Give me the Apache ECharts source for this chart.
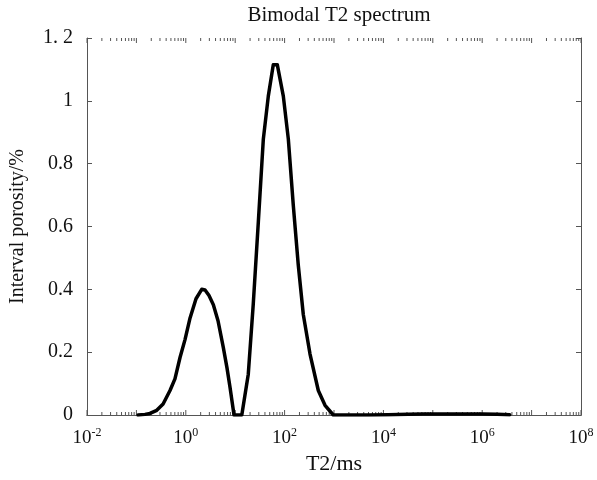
<!DOCTYPE html>
<html>
<head>
<meta charset="utf-8">
<script src="https://cdn.jsdelivr.net/npm/echarts@6/dist/echarts.min.js"></script>
<style>html,body{margin:0;padding:0;background:#fff}#c{width:597px;height:480px}</style>
</head>
<body>
<div id="c"></div>
<script>
// T2 relaxation times (ms)
var t2 = [0.108, 0.149, 0.188, 0.258, 0.347, 0.479, 0.603, 0.764, 0.964, 1.22, 1.61, 2.10, 2.45, 2.95, 3.61, 4.49, 5.74, 6.82, 7.85, 9.46,
          13.6, 18.4, 23.2, 29.4, 37.1, 46.8, 59.0, 71.1, 94.2, 119, 150, 189, 239, 327, 481, 658, 968,
          2000, 5000, 12600, 31600, 63100, 158000, 398000, 1000000, 2000000, 3600000];
// Interval porosity (%)
var porosity = [0, 0.002, 0.005, 0.015, 0.035, 0.078, 0.115, 0.183, 0.24, 0.309, 0.37, 0.40, 0.398, 0.38, 0.351, 0.30, 0.215, 0.15, 0.088, 0,
                0, 0.13, 0.353, 0.615, 0.878, 1.015, 1.115, 1.115, 1.015, 0.878, 0.667, 0.478, 0.32, 0.194, 0.078, 0.031, 0,
                0, 0, 0.001, 0.002, 0.003, 0.003, 0.003, 0.003, 0.002, 0.001];
// Axis tick labels
var xTickExponents = [-2, 0, 2, 4, 6, 8];
var yTickLabels = ['0', '0.2', '0.4', '0.6', '0.8', '1', '1. 2'];

var xMinExp = -2, xMaxExp = 8;
var FONT = '"Liberation Serif", "DejaVu Serif", serif';

// minor/major tick positions for the log axis (1..9 x 10^k)
var tickVals = [];
for (var k = xMinExp; k < xMaxExp; k++) {
  for (var m = 1; m <= 9; m++) tickVals.push([m * Math.pow(10, k), m === 1 ? 1 : 0]);
}
tickVals.push([Math.pow(10, xMaxExp), 1]);

var lineData = t2.map(function (v, i) { return [v, porosity[i]]; });

function expLabel(v) {
  var e = Math.round(Math.log(v) / Math.LN10);
  if (xTickExponents.indexOf(e) < 0) return '';
  return '{b|10}{s|' + e + '}';
}

var chart = echarts.init(document.getElementById('c'), null, {renderer: 'canvas'});
chart.setOption({
  animation: false,
  backgroundColor: '#fff',
  title: {
    text: 'Bimodal T2 spectrum',
    left: 334, top: 0, textAlign: 'center',
    textStyle: {fontFamily: FONT, fontWeight: 'normal', fontSize: 21, color: '#111'}
  },
  grid: {left: 87, right: 16, top: 38, bottom: 62, containLabel: false},
  xAxis: [{
    type: 'log', logBase: 10, min: Math.pow(10, xMinExp), max: Math.pow(10, xMaxExp),
    interval: 1,
    name: 'T2/ms', nameLocation: 'middle', nameGap: 38,
    nameTextStyle: {fontFamily: FONT, fontSize: 22, color: '#111'},
    axisLine: {show: true, lineStyle: {color: '#555', width: 1}},
    axisTick: {show: false},
    splitLine: {show: false},
    axisLabel: {
      margin: 12, formatter: expLabel, showMinLabel: true, showMaxLabel: true, interval: 0,
      rich: {
        b: {fontFamily: FONT, fontSize: 19, color: '#111', verticalAlign: 'bottom'},
        s: {fontFamily: FONT, fontSize: 12, color: '#111', verticalAlign: 'top', padding: [0, 0, 9, 0]}
      }
    }
  }, {
    type: 'log', logBase: 10, min: Math.pow(10, xMinExp), max: Math.pow(10, xMaxExp),
    position: 'top',
    axisLine: {show: true, lineStyle: {color: '#555', width: 1}},
    axisTick: {show: false}, axisLabel: {show: false}, splitLine: {show: false}
  }],
  yAxis: [{
    type: 'value', min: 0, max: 1.2, interval: 0.2,
    name: 'Interval porosity/%', nameLocation: 'middle', nameGap: 59,
    nameTextStyle: {fontFamily: FONT, fontSize: 20, color: '#111'},
    axisLine: {show: true, lineStyle: {color: '#555', width: 1}},
    axisTick: {show: true, inside: true, length: 5, lineStyle: {color: '#555'}},
    splitLine: {show: false},
    axisLabel: {
      margin: 14, fontFamily: FONT, fontSize: 20, color: '#111',
      formatter: function (v) { return yTickLabels[Math.round(v / 0.2)]; }
    }
  }, {
    type: 'value', min: 0, max: 1.2, interval: 0.2, position: 'right',
    axisLine: {show: true, lineStyle: {color: '#555', width: 1}},
    axisTick: {show: true, inside: true, length: 5, lineStyle: {color: '#555'}},
    axisLabel: {show: false}, splitLine: {show: false}
  }],
  series: [{
    type: 'custom', silent: true, clip: false, z: 1,
    xAxisIndex: 0, yAxisIndex: 0,
    data: tickVals.map(function (t) { return [t[0], 0, t[1]]; }),
    renderItem: function (params, api) {
      var cs = params.coordSys;
      var x = api.coord([api.value(0), 0])[0];
      var len = api.value(2) ? 5 : 3;
      var st = {stroke: '#555', lineWidth: 1};
      return {type: 'group', children: [
        {type: 'line', shape: {x1: x, y1: cs.y + cs.height, x2: x, y2: cs.y + cs.height - len}, style: st},
        {type: 'line', shape: {x1: x, y1: cs.y, x2: x, y2: cs.y + len}, style: st}
      ]};
    }
  }, {
    type: 'line', data: lineData, showSymbol: false, symbol: 'none', z: 3,
    lineStyle: {color: '#000', width: 3.5, join: 'round', cap: 'round'}
  }]
});
</script>
</body>
</html>
